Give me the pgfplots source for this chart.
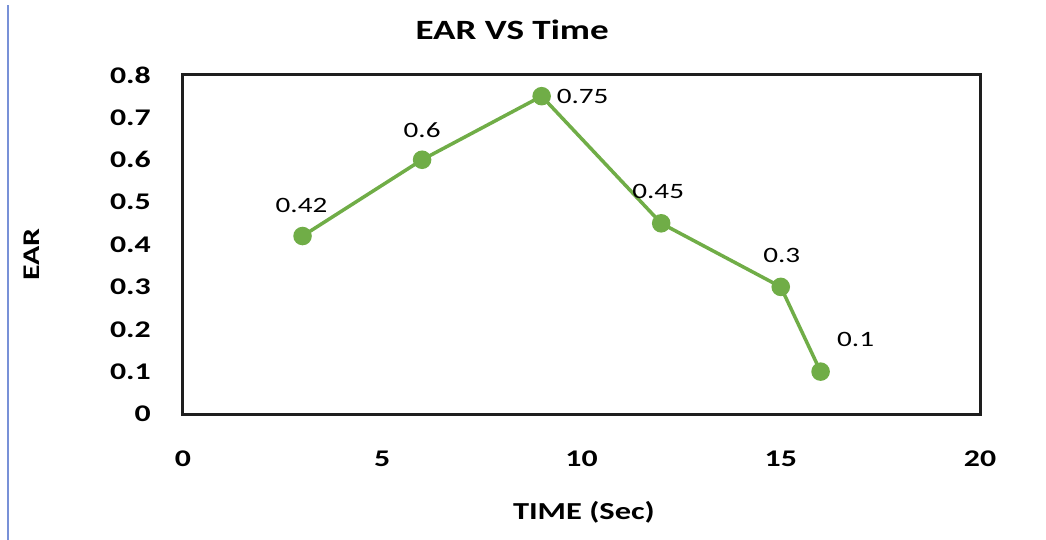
\documentclass[border=0pt]{standalone}
\usepackage{pgfplots}
\pgfplotsset{compat=1.18}
\usepackage{pgfplotstable}
\usepackage{graphicx}
\usepackage{fontspec}
\setmainfont{Carlito}
\newcommand\sx[1]{\scalebox{1.33}[1]{#1}}
\definecolor{exgreen}{RGB}{112,173,71}
\definecolor{frame}{RGB}{30,30,30}
\definecolor{edgeblue}{RGB}{120,145,215}

% x, y, label, label offsets (bp)
\pgfplotstableread{
x  y     lab   dx  dy
3  0.42  0.42  -1  31
6  0.60  0.6    0  30
9  0.75  0.75  41   0
12 0.45  0.45  -3  32
15 0.30  0.3    1  31
16 0.10  0.1   35  32
}\eardata

\begin{document}
\begin{tikzpicture}
\begin{axis}[
    scale only axis,
    width=797bp, height=339bp,
    xmin=0, xmax=20, ymin=0, ymax=0.8,
    xtick={0,5,10,15,20},
    ytick={0,0.1,0.2,0.3,0.4,0.5,0.6,0.7,0.8},
    major tick length=0pt,
    /pgf/number format/assume math mode=true,
    xticklabel={\sx{\fontsize{24}{24}\selectfont\bfseries\pgfmathprintnumber{\tick}}},
    yticklabel={\sx{\fontsize{24}{24}\selectfont\bfseries\pgfmathprintnumber{\tick}}},
    xticklabel style={anchor=north, inner sep=0pt, yshift=-37bp},
    yticklabel style={anchor=east, inner sep=0pt, xshift=-32bp},
    axis line style={frame, line width=3bp},
    title={\sx{\fontsize{28}{28}\selectfont\bfseries EAR VS Time}},
    title style={at={(axis description cs:0.413,1.117)}, anchor=center},
    xlabel={\sx{\fontsize{24.5}{24.5}\selectfont\bfseries TIME (Sec)}},
    xlabel style={at={(axis description cs:0.503,-0.289)}, anchor=center},
    ylabel={\sx{\fontsize{24}{24}\selectfont\bfseries EAR}},
    ylabel style={at={(axis description cs:-0.19,0.47)}, anchor=center},
    clip=false,
]
\addplot[
    exgreen, line width=3.5bp,
    mark=*, mark size=7.5bp, mark options={fill=exgreen, draw=exgreen},
    point meta=explicit symbolic,
    visualization depends on={\thisrow{dx} \as \dx},
    visualization depends on={\thisrow{dy} \as \dy},
    nodes near coords={\sx{\pgfplotspointmeta}},
    nodes near coords style={anchor=center, text=black, inner sep=0pt,
        xshift=\dx*1bp, yshift=\dy*1bp,
        font=\fontsize{22}{22}\selectfont},
    ] table[x=x, y=y, meta=lab] {\eardata};
\end{axis}
\pgfresetboundingbox
\useasboundingbox ([xshift=-183bp,yshift=-126bp]current axis.south west) rectangle ++(1046bp,540bp);
\draw[edgeblue, line width=1.2bp] ([xshift=-175bp,yshift=-126bp]current axis.south west) -- ++(0,535bp);
\end{tikzpicture}
\end{document}
